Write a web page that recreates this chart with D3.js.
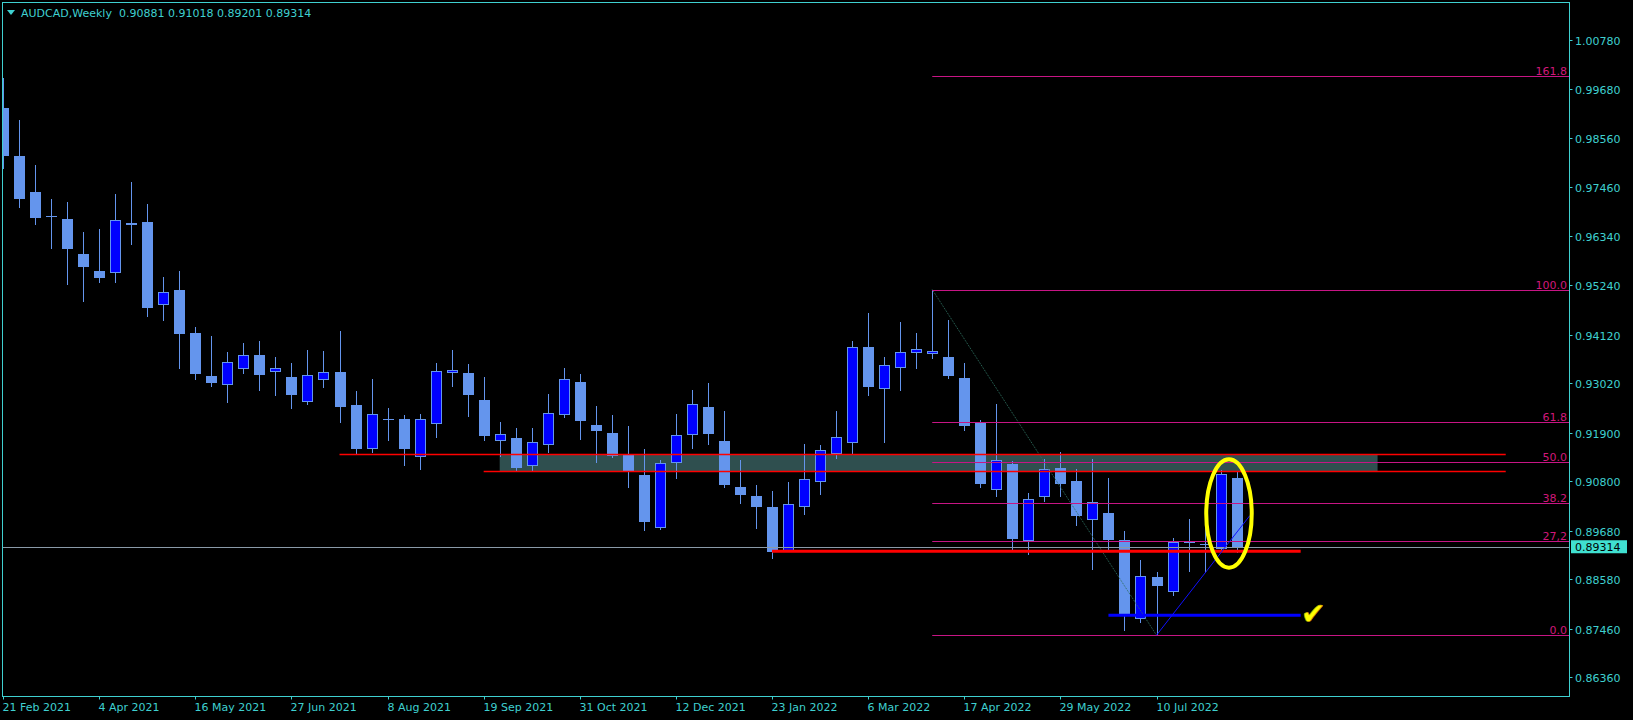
<!DOCTYPE html>
<html><head><meta charset="utf-8">
<script src="https://cdn.jsdelivr.net/npm/d3@7"></script>
<style>html,body{margin:0;padding:0;background:#000;overflow:hidden}svg{display:block}</style>
</head><body>
<script>
// ---------- DATA ----------
const symbolTitle = "AUDCAD,Weekly  0.90881 0.91018 0.89201 0.89314";
const open = [0.99249,0.98162,0.97347,0.96804,0.96736,0.95943,0.95558,0.95506,0.96645,0.96668,
0.94781,0.95128,0.94154,0.93180,0.92970,0.93332,0.93656,0.93264,0.93158,0.92598,
0.93097,0.93271,0.92524,0.91534,0.92200,0.92207,0.91339,0.92100,0.93242,0.93248,
0.92637,0.91702,0.91776,0.91136,0.91611,0.92290,0.93044,0.92071,0.91890,0.91391,
0.90939,0.89732,0.91203,0.91837,0.92478,0.91708,0.90667,0.90463,0.90214,0.89224,
0.90207,0.90773,0.91407,0.91670,0.93837,0.92879,0.93368,0.93694,0.93672,0.93604,
0.93135,0.92145,0.90606,0.91188,0.89451,0.90447,0.91097,0.90803,0.89913,0.90078,
0.89467,0.87684,0.88636,0.88296,0.89418,0.89380,0.89270,0.90881];
const high = [0.99929,0.98977,0.97958,0.97189,0.97121,0.96441,0.96509,0.97302,0.97573,0.97075,
0.95422,0.95558,0.94290,0.94086,0.93724,0.93928,0.93973,0.93611,0.93475,0.93769,
0.93747,0.94199,0.92841,0.93112,0.92456,0.92297,0.92320,0.93475,0.93769,0.93452,
0.93158,0.92139,0.92003,0.92003,0.92773,0.93362,0.93226,0.92501,0.92297,0.92048,
0.91527,0.91278,0.92320,0.92863,0.93022,0.92388,0.91278,0.90712,0.90576,0.90780,
0.91641,0.91618,0.92388,0.93973,0.94607,0.93611,0.94403,0.94154,0.95139,0.94449,
0.93475,0.92184,0.92546,0.91256,0.90531,0.91301,0.91459,0.91074,0.91301,0.90871,
0.89670,0.89014,0.88742,0.89512,0.89942,0.90298,0.91052,0.91018];
const low = [0.97884,0.97014,0.96629,0.96086,0.95271,0.94886,0.95316,0.95316,0.96176,0.94546,
0.94455,0.93368,0.93119,0.92961,0.92598,0.93255,0.92870,0.92757,0.92463,0.92553,
0.92938,0.92145,0.91443,0.91466,0.91738,0.91172,0.91081,0.91806,0.92961,0.92281,
0.91738,0.91376,0.91036,0.91036,0.91466,0.92259,0.91760,0.91240,0.91353,0.90674,
0.89700,0.89725,0.90877,0.91557,0.91647,0.90674,0.90311,0.89745,0.89066,0.89215,
0.90062,0.90515,0.91330,0.91407,0.92750,0.91692,0.92870,0.93368,0.93595,0.93142,
0.91964,0.90674,0.90470,0.89247,0.89156,0.90357,0.90470,0.89813,0.88817,0.89247,
0.87435,0.87617,0.87311,0.88228,0.88771,0.88749,0.89256,0.89201];
const close = [0.98169,0.97195,0.96765,0.96775,0.96063,0.95655,0.95406,0.96706,0.96607,0.94727,
0.95076,0.94138,0.93232,0.93029,0.93491,0.93649,0.93210,0.93355,0.92757,0.93196,
0.93264,0.92478,0.91534,0.92313,0.92200,0.91534,0.92207,0.93294,0.93309,0.92750,
0.91828,0.91860,0.91104,0.91679,0.92336,0.93106,0.92168,0.91942,0.91376,0.91029,
0.89881,0.91203,0.91837,0.92540,0.91874,0.90719,0.90492,0.90221,0.89202,0.90275,
0.90841,0.91498,0.91792,0.93830,0.92931,0.93423,0.93717,0.93785,0.93740,0.93187,
0.92055,0.90741,0.91271,0.89496,0.90388,0.91068,0.90741,0.90017,0.90327,0.89473,
0.87791,0.88651,0.88432,0.89414,0.89414,0.89376,0.90961,0.89314];
const lastPrice = 0.89314;

const priceTicks = [1.00780,0.99680,0.98560,0.97460,0.96340,0.95240,0.94120,0.93020,0.91900,0.90800,0.89680,0.88580,0.87460,0.86360];
const priceTickLabels = ["1.00780","0.99680","0.98560","0.97460","0.96340","0.95240","0.94120","0.93020","0.91900","0.90800","0.89680","0.88580","0.87460","0.86360"];
const timeTickIndex = [0,6,12,18,24,30,36,42,48,54,60,66,72];
const timeTickLabels = ["21 Feb 2021","4 Apr 2021","16 May 2021","27 Jun 2021","8 Aug 2021","19 Sep 2021","31 Oct 2021","12 Dec 2021","23 Jan 2022","6 Mar 2022","17 Apr 2022","29 May 2022","10 Jul 2022"];

// Fibonacci retracement (from bar 58 high to bar 72 low)
const fibFromBar = 58, fibToBar = 72;
const fibLevels = [0, 0.272, 0.382, 0.5, 0.618, 1.0, 1.618];
const fibLabels = ["0.0","27,2","38.2","50.0","61.8","100.0","161.8"];

// Drawn objects (bar index / price anchors)
const zone = {i0: 31, i1: 85.8, p0: 0.91407, p1: 0.91022};
const redLines = [{i0: 21, i1: 93.8, p: 0.91407}, {i0: 30, i1: 93.8, p: 0.91022}];
const redThick = {i0: 48, i1: 81, p: 0.89211};
const blueThick = {i0: 69, i1: 81, p: 0.87761};
const blueTrend = {i0: 72, p0: 0.87311, i1: 77.83, p1: 0.90021};
const ellipseBox = {i0: 74.98, i1: 78.07, pTop: 0.91339, pBot: 0.88794};
const checkMark = {i: 81.0, p: 0.87560, text: "\u2714"};

// ---------- CHART ----------
const W = 1633, H = 720;
const plotL = 2.5, plotT = 2.5, plotR = 1569.5, plotB = 696.5;
const fg = "#3fd0d0", bull = "#0000ff", bear = "#6495ed";
const font = "DejaVu Sans";

const svg = d3.select("body").append("svg").attr("width", W).attr("height", H)
  .style("background", "#000");

const x = d3.scaleLinear().domain([0, 77]).range([3.1, 1236.6]);
const y = d3.scaleLinear().domain([0.86360, 1.00780]).range([677.2, 40.4]);

svg.append("clipPath").attr("id", "plotclip").append("rect")
  .attr("x", plotL + 0.5).attr("y", plotT + 0.5).attr("width", plotR - plotL - 1).attr("height", plotB - plotT - 1);

const plot = svg.append("g").attr("clip-path", "url(#plotclip)");

// zone rectangle (background)
plot.append("rect")
  .attr("x", x(zone.i0)).attr("y", y(zone.p0))
  .attr("width", x(zone.i1) - x(zone.i0)).attr("height", y(zone.p1) - y(zone.p0))
  .attr("fill", "#2f4f4f");

// candles
const bars = d3.range(open.length);
const cx = i => Math.round(x(i));
const cg = plot.append("g");
bars.forEach(i => {
  const c = cx(i);
  const isBull = close[i] > open[i];
  cg.append("line")
    .attr("x1", c + 0.5).attr("x2", c + 0.5)
    .attr("y1", Math.round(y(high[i]))).attr("y2", Math.round(y(low[i])) + 1)
    .attr("stroke", bear).attr("stroke-width", 1);
  const top = Math.round(y(Math.max(open[i], close[i])));
  const bot = Math.round(y(Math.min(open[i], close[i])));
  const h = Math.max(1, bot - top);
  if (isBull) {
    cg.append("rect").attr("x", c - 5 + 0.5).attr("y", top + 0.5)
      .attr("width", 10).attr("height", Math.max(0, h - 1))
      .attr("fill", bull).attr("stroke", bear).attr("stroke-width", 1);
  } else {
    cg.append("rect").attr("x", c - 5).attr("y", top)
      .attr("width", 11).attr("height", h)
      .attr("fill", bear);
  }
});

// current price line
plot.append("line").attr("x1", 0).attr("x2", plotR)
  .attr("y1", Math.round(y(lastPrice)) + 0.5).attr("y2", Math.round(y(lastPrice)) + 0.5)
  .attr("stroke", "#8a9aa8").attr("stroke-width", 1);

// fibonacci
const fibHi = high[fibFromBar], fibLo = low[fibToBar];
plot.append("line")
  .attr("x1", x(fibFromBar)).attr("y1", y(fibHi))
  .attr("x2", x(fibToBar)).attr("y2", y(fibLo))
  .attr("stroke", "#2f7060").attr("stroke-width", 1).attr("stroke-dasharray", "1,1");
fibLevels.forEach((lv, k) => {
  const yy = Math.round(y(fibLo + lv * (fibHi - fibLo))) + 0.5;
  plot.append("line").attr("x1", x(fibFromBar)).attr("x2", plotR)
    .attr("y1", yy).attr("y2", yy).attr("stroke", "#c71585").attr("stroke-width", 1);
  svg.append("text").attr("x", 1567).attr("y", yy - 2)
    .attr("text-anchor", "end").attr("font-family", font).attr("font-size", 11)
    .attr("fill", "#d0187a").text(fibLabels[k]);
});

// red zone lines
redLines.forEach(l => {
  const yy = Math.round(y(l.p)) + 0.5;
  plot.append("line").attr("x1", x(l.i0)).attr("x2", x(l.i1))
    .attr("y1", yy).attr("y2", yy).attr("stroke", "#ff0000").attr("stroke-width", 1.3);
});
plot.append("line").attr("x1", x(redThick.i0)).attr("x2", x(redThick.i1))
  .attr("y1", y(redThick.p)).attr("y2", y(redThick.p)).attr("stroke", "#ff0000").attr("stroke-width", 3);
plot.append("line").attr("x1", x(blueThick.i0)).attr("x2", x(blueThick.i1))
  .attr("y1", y(blueThick.p)).attr("y2", y(blueThick.p)).attr("stroke", "#0000ff").attr("stroke-width", 3);
plot.append("line").attr("x1", x(blueTrend.i0)).attr("y1", y(blueTrend.p0))
  .attr("x2", x(blueTrend.i1)).attr("y2", y(blueTrend.p1)).attr("stroke", "#1010ff").attr("stroke-width", 1);

// yellow ellipse
plot.append("ellipse")
  .attr("cx", (x(ellipseBox.i0) + x(ellipseBox.i1)) / 2)
  .attr("cy", (y(ellipseBox.pTop) + y(ellipseBox.pBot)) / 2)
  .attr("rx", (x(ellipseBox.i1) - x(ellipseBox.i0)) / 2 - 2)
  .attr("ry", (y(ellipseBox.pBot) - y(ellipseBox.pTop)) / 2 - 2)
  .attr("fill", "none").attr("stroke", "#ffff00").attr("stroke-width", 4);

// check mark
plot.append("text").attr("x", x(checkMark.i)).attr("y", y(checkMark.p))
  .attr("font-family", font).attr("font-size", 30)
  .attr("fill", "#ffff00").attr("stroke", "#c8a000").attr("stroke-width", 0.6)
  .text(checkMark.text);

// frame
svg.append("rect").attr("x", plotL).attr("y", plotT)
  .attr("width", plotR - plotL).attr("height", plotB - plotT)
  .attr("fill", "none").attr("stroke", fg).attr("stroke-width", 1);

// price axis
priceTicks.forEach((p, k) => {
  const yy = Math.round(y(p)) + 0.5;
  svg.append("line").attr("x1", plotR).attr("x2", plotR + 3).attr("y1", yy).attr("y2", yy)
    .attr("stroke", fg);
  svg.append("text").attr("x", 1575).attr("y", yy + 4.5)
    .attr("font-family", font).attr("font-size", 11).attr("fill", fg).text(priceTickLabels[k]);
});
// last price label
const ly = y(lastPrice);
svg.append("rect").attr("x", 1571).attr("y", ly - 6.5).attr("width", 56).attr("height", 13)
  .attr("fill", "#40e0d0");
svg.append("text").attr("x", 1575).attr("y", ly + 4.5)
  .attr("font-family", font).attr("font-size", 11).attr("fill", "#000").text(lastPrice.toFixed(5));

// time axis
timeTickIndex.forEach((i, k) => {
  const xx = cx(i) + 0.5;
  svg.append("line").attr("x1", xx).attr("x2", xx).attr("y1", plotB).attr("y2", plotB + 3).attr("stroke", fg);
  svg.append("text").attr("x", xx - 1).attr("y", 711)
    .attr("font-family", font).attr("font-size", 11).attr("fill", fg).text(timeTickLabels[k]);
});

// title
svg.append("path").attr("d", "M7,10L15,10L11,15Z").attr("fill", fg);
svg.append("text").attr("x", 21).attr("y", 17.3).attr("xml:space", "preserve")
  .style("white-space", "pre")
  .attr("font-family", font).attr("font-size", 11).attr("fill", fg).text(symbolTitle);
</script>
</body></html>
